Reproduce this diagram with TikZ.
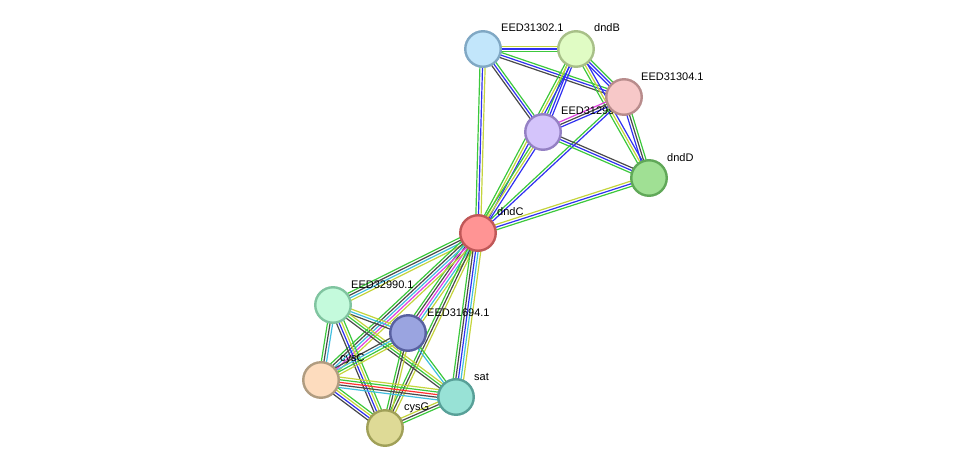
\documentclass[tikz,border=0pt]{standalone}
\usepackage{fontspec}
\setmainfont{Liberation Sans}
\usetikzlibrary{calc,backgrounds}
\definecolor{eg}{HTML}{3CC83C}
\definecolor{eb}{HTML}{3030F0}
\definecolor{ey}{HTML}{C4D43C}
\definecolor{ek}{HTML}{4A4A4A}
\definecolor{ec}{HTML}{40BEE0}
\definecolor{em}{HTML}{E040E0}
\definecolor{er}{HTML}{FF3030}
\definecolor{f302}{HTML}{C2E6FB}\definecolor{d302}{HTML}{80A8C4}
\definecolor{fdB}{HTML}{E0FCC4}\definecolor{ddB}{HTML}{A8C088}
\definecolor{f299}{HTML}{D4C4FB}\definecolor{d299}{HTML}{9480C4}
\definecolor{f304}{HTML}{F7C8C8}\definecolor{d304}{HTML}{B88C8C}
\definecolor{fdD}{HTML}{A0E094}\definecolor{ddD}{HTML}{60A858}
\definecolor{fdC}{HTML}{FF9494}\definecolor{ddC}{HTML}{C05858}
\definecolor{f990}{HTML}{C4FADC}\definecolor{d990}{HTML}{80C4A0}
\definecolor{f694}{HTML}{9AA4E0}\definecolor{d694}{HTML}{5860A0}
\definecolor{fcC}{HTML}{FDDCBE}\definecolor{dcC}{HTML}{B09C80}
\definecolor{fsat}{HTML}{98E2D6}\definecolor{dsat}{HTML}{58A098}
\definecolor{fcG}{HTML}{DEDA96}\definecolor{dcG}{HTML}{A0A058}
\newcommand\stredge[3]{%
  \xdef\ncol{0}%
  \foreach \c in {#3}{\xdef\ncol{\the\numexpr\ncol+1\relax}}%
  \foreach \c [count=\i] in {#3}{%
    \pgfmathsetmacro\off{(\i-(\ncol+1)/2)*2.6}%
    \draw[\c, line width=1.2pt] ($(#1)!\off pt!90:(#2)$) -- ($(#2)!\off pt!-90:(#1)$);
  }%
}
\tikzset{
  prot/.style 2 args={circle, minimum size=35.5pt, inner sep=0pt, line width=2.4pt, fill=#1, draw=#2},
  lbl/.style={anchor=west, inner sep=0pt, font=\fontsize{11pt}{13pt}\selectfont, text=black}
}
\begin{document}
\begin{tikzpicture}[x=1pt,y=-1pt]
\useasboundingbox (0,0) rectangle (975,474);
% labels (behind nodes)
\node[lbl] (l1) at (501,28) {EED31302.1};
\node[lbl] (l2) at (594,28) {dndB};
\node[lbl] (l3) at (641,77) {EED31304.1};
\node[lbl] (l4) at (561,111) {EED31299.1};
\node[lbl] (l5) at (667,158) {dndD};
\node[lbl] (l6) at (497,212) {dndC};
\node[lbl] (l7) at (351,285) {EED32990.1};
\node[lbl] (l8) at (427,313) {EED31694.1};
\node[lbl] (l9) at (340,359) {cysC};
\node[lbl] (l10) at (474,377) {sat};
\node[lbl] (l11) at (404,408) {cysG};
% nodes
\node[prot={f302}{d302}] (n302) at (483,49) {};
\node[prot={fdB}{ddB}] (dndB) at (576,49) {};
\node[prot={f299}{d299}] (n299) at (543,132) {};
\node[prot={f304}{d304}] (n304) at (624,97) {};
\node[prot={fdD}{ddD}] (dndD) at (649,178) {};
\node[prot={fdC}{ddC}] (dndC) at (478,233) {};
\node[prot={f990}{d990}] (n990) at (333,305) {};
\node[prot={f694}{d694}] (n694) at (408,333) {};
\node[prot={fcC}{dcC}] (cysC) at (321,380) {};
\node[prot={fsat}{dsat}] (sat) at (456,397) {};
\node[prot={fcG}{dcG}] (cysG) at (385,428) {};
\begin{pgfonlayer}{background}
% top cluster
\stredge{n302}{dndB}{eg,eb,ey}
\stredge{n302}{n304}{ek,eb,eg}
\stredge{n302}{n299}{ek,eb,eg}
\stredge{n302}{dndC}{eg,eb,ey}
\stredge{dndB}{n299}{eg,eb,eb}
\stredge{dndB}{dndC}{eg,ey,eb}
\stredge{dndB}{n304}{eb,eb,eg}
\stredge{dndB}{dndD}{eg,ey,eb}
\stredge{n304}{n299}{em,ek,eb}
\stredge{n304}{dndC}{eg,eb}
\stredge{n304}{dndD}{eb,ek,eg}
\stredge{n299}{dndD}{eg,eb,ek}
\stredge{n299}{dndC}{eg,ey,eb}
\stredge{dndC}{dndD}{eg,eb,ey}
% bottom cluster
\stredge{dndC}{n990}{eg,ek,ec,ey}
\stredge{dndC}{n694}{eg,ek,em,ec,ey}
\stredge{dndC}{cysC}{eg,ek,ec,em,ey}
\stredge{dndC}{cysG}{eg,ek,ey}
\stredge{dndC}{sat}{eg,ek,eb,ec,ey}
\stredge{n990}{n694}{ek,ec,ey}
\stredge{n990}{cysC}{eg,ek,ec}
\stredge{n990}{cysG}{ek,eb,ey,eg}
\stredge{n990}{sat}{ek,eg,ey}
\stredge{n694}{cysC}{ek,ec,eg,ey}
\stredge{n694}{cysG}{eg,ek,ey}
\stredge{n694}{sat}{ec,eg}
\stredge{cysC}{sat}{ec,ek,er,eg,ey}
\stredge{cysC}{cysG}{ek,eb,ey,eg}
\stredge{cysG}{sat}{eg,ek,ey}
\end{pgfonlayer}
\end{tikzpicture}
\end{document}
